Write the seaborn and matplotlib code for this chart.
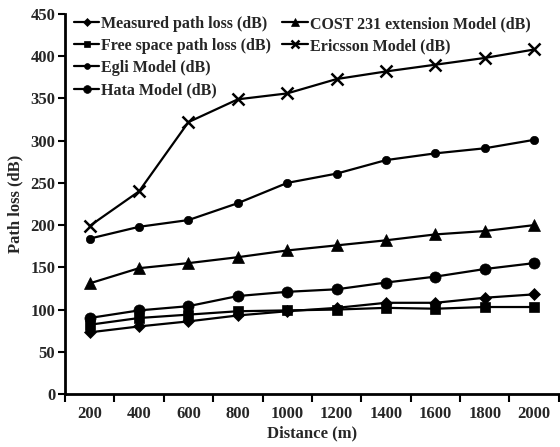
import matplotlib
matplotlib.use("Agg")
import matplotlib.pyplot as plt
import seaborn as sns
import pandas as pd
import numpy as np

distances = ["200", "400", "600", "800", "1000", "1200", "1400", "1600", "1800", "2000"]
measured = [73, 80, 86, 93, 98, 102, 108, 108, 114, 118]
free_space = [82, 90, 94, 98, 99, 100, 102, 101, 103, 103]
egli = [184, 198, 206, 226, 250, 261, 277, 285, 291, 301]
hata = [90, 99, 104, 116, 121, 124, 132, 139, 148, 155]
cost231 = [131, 149, 155, 162, 170, 176, 182, 189, 193, 200]
ericsson = [199, 240, 322, 349, 356, 373, 382, 390, 398, 408]

series = [
    ("Measured path loss (dB)", measured, "D", 6),
    ("Free space path loss (dB)", free_space, "s", 7),
    ("Egli Model (dB)", egli, "o", 6),
    ("Hata Model (dB)", hata, "o", 8),
    ("COST 231 extension Model (dB)", cost231, "^", 8),
    ("Ericsson Model (dB)", ericsson, "x", 8),
]

sns.set_theme(style="white")
plt.rcParams["font.family"] = ["Liberation Serif", "DejaVu Serif"]
plt.rcParams["font.weight"] = "bold"

fig = plt.figure(figsize=(5.6, 4.47), dpi=100)
ax = fig.add_axes([0.116, 0.1186, 0.882, 0.85])

xpos = np.arange(len(distances))
handles = {}
for name, vals, mk, ms in series:
    df = pd.DataFrame({"x": xpos, "y": vals})
    sns.lineplot(data=df, x="x", y="y", ax=ax, color="black", marker=mk,
                 markersize=ms, markeredgewidth=1.8 if mk == "x" else 0.5,
                 markeredgecolor="black", markerfacecolor="black",
                 linewidth=1.6, label=name, legend=False)
    handles[name] = ax.get_lines()[-1]

ax.set_xlim(-0.5, 9.5)
ax.set_ylim(0, 450)
ax.set_yticks(np.arange(0, 451, 50))
ax.set_xticks(xpos)
ax.set_xticklabels(distances)
ax.set_xticks(np.arange(-0.5, 9.6, 1), minor=True)
ax.tick_params(axis="x", which="major", length=0, pad=9, labelsize=12)
ax.tick_params(axis="x", which="minor", length=6, width=1.5, direction="out", color="black", bottom=True)
ax.tick_params(axis="y", length=5, width=1.5, direction="out", color="black", left=True, labelsize=12, pad=2)
for s in ["top", "right"]:
    ax.spines[s].set_visible(False)
for s in ["left", "bottom"]:
    ax.spines[s].set_linewidth(2)
    ax.spines[s].set_color("black")

ax.set_xlabel("Distance (m)", fontsize=12, fontweight="bold", labelpad=2)
ax.set_ylabel("Path loss (dB)", fontsize=12, fontweight="bold", labelpad=5)

names1 = [s[0] for s in series[:4]]
names2 = [s[0] for s in series[4:]]
common = dict(frameon=False, fontsize=11.5, handlelength=1.6, handletextpad=0.12,
              markerscale=0.7, labelspacing=0.38, borderaxespad=0.0, borderpad=0.0,
              loc="upper left")
leg1 = ax.legend([handles[n] for n in names1], names1,
                 bbox_to_anchor=(0.018, 0.995), **common)
ax.add_artist(leg1)
ax.legend([handles[n] for n in names2], names2,
          bbox_to_anchor=(0.44, 0.995), **common)

fig.savefig("out.png", dpi=100)
